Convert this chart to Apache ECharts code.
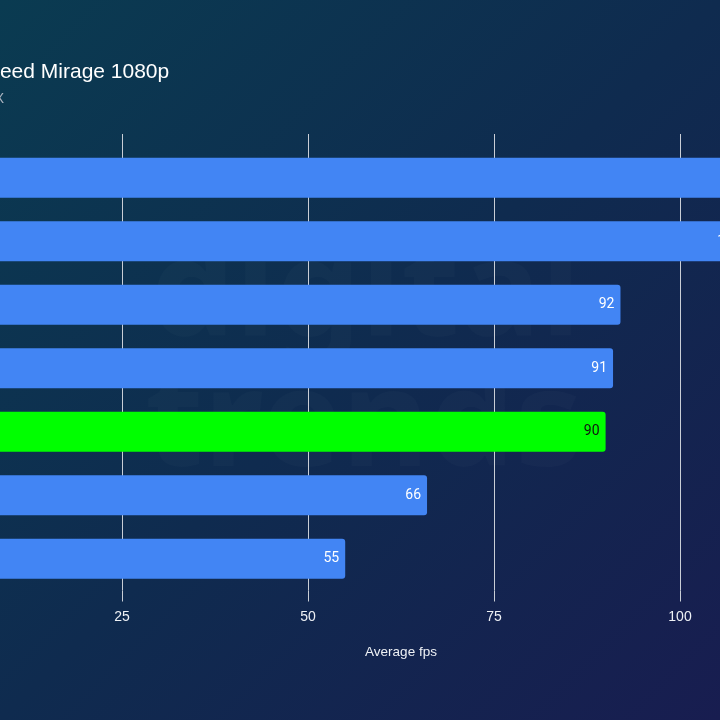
<!DOCTYPE html>
<html>
<head>
<meta charset="utf-8">
<script src="https://cdn.jsdelivr.net/npm/echarts@6/dist/echarts.min.js"></script>
<style>
  html, body { margin: 0; padding: 0; width: 720px; height: 720px; overflow: hidden; background: #10294e; }
  #chart { position: absolute; left: -400px; top: 0; width: 1300px; height: 720px; }
</style>
</head>
<body>
<div id="chart"></div>
<script>
// ---- data ----
const categories = ['GPU A', 'GPU B', 'GPU C', 'GPU D', 'GPU E', 'GPU F', 'GPU G'];
const fpsValues = [117, 109, 92, 91, 90, 66, 55];
const highlightIndex = 4;
const xMin = 0, xMax = 125, xInterval = 25;
const titleText = "Assassin's Creed Mirage 1080p";
const subtitleText = 'AMD Ryzen 9 7950X';
const axisName = 'Average fps';

// ---- layout ----
const OFFSET = 400; // container shifted left (the reference is a crop)
const chart = echarts.init(document.getElementById('chart'), null, { renderer: 'canvas' });

const blue = '#4285f4';
const green = '#00ff00';
const gridColor = '#c9ced6';

const seriesData = fpsValues.map((v, i) => ({
  value: v,
  itemStyle: { color: i === highlightIndex ? green : blue },
  label: { color: i === highlightIndex ? '#111111' : '#ffffff' }
}));

const option = {
  backgroundColor: {
    type: 'linear', x: OFFSET, y: 0, x2: OFFSET + 720, y2: 720, global: true,
    colorStops: [
      { offset: 0, color: '#0a3b51' },
      { offset: 0.5, color: '#0f2b4f' },
      { offset: 1, color: '#181d50' }
    ]
  },
  title: {
    text: titleText,
    subtext: subtitleText,
    left: OFFSET - 126.6,
    top: 62,
    padding: 0,
    itemGap: 9,
    textStyle: { color: '#ffffff', fontSize: 21, fontWeight: 'normal', fontFamily: 'Liberation Sans, Arial, sans-serif' },
    subtextStyle: { color: '#aab3bf', fontSize: 14, fontFamily: 'Liberation Sans, Arial, sans-serif' }
  },
  graphic: [
    { type: 'text', z: -1, left: OFFSET + 150, top: 230,
      style: { text: 'digital', fill: 'rgba(255,255,255,0.02)', font: 'bold 135px "Noto Sans", sans-serif' } },
    { type: 'text', z: -1, left: OFFSET + 145, top: 360,
      style: { text: 'trends', fill: 'rgba(255,255,255,0.02)', font: 'bold 135px "Noto Sans", sans-serif' } }
  ],
  grid: { left: 336, right: 34, top: 146, bottom: 129.5, containLabel: false },
  xAxis: [
    {
      type: 'value', position: 'bottom', min: xMin, max: xMax, interval: xInterval,
      axisLine: { show: false },
      axisTick: { show: true, length: 11, lineStyle: { color: gridColor, width: 1 } },
      splitLine: { show: true, lineStyle: { color: gridColor, width: 1 } },
      axisLabel: { color: '#eef1f5', fontSize: 14, margin: 20, fontFamily: 'Liberation Sans, Arial, sans-serif' },
      name: axisName, nameLocation: 'middle', nameGap: 55,
      nameTextStyle: { color: '#eef1f5', fontSize: 13.5, fontFamily: 'Liberation Sans, Arial, sans-serif' }
    },
    {
      type: 'value', position: 'top', min: xMin, max: xMax, interval: xInterval,
      axisLine: { show: false },
      axisTick: { show: true, length: 12, lineStyle: { color: gridColor, width: 1 } },
      splitLine: { show: false },
      axisLabel: { show: false }
    }
  ],
  yAxis: {
    type: 'category', data: categories, inverse: true,
    axisLine: { show: false }, axisTick: { show: false },
    axisLabel: { color: '#ffffff', fontSize: 14 }
  },
  series: [{
    type: 'bar',
    xAxisIndex: 0,
    data: seriesData,
    barWidth: 40,
    itemStyle: { borderRadius: [0, 3, 3, 0] },
    label: {
      show: true, position: 'insideRight', distance: 6,
      fontSize: 14, fontFamily: 'Roboto, sans-serif'
    },
    animation: false
  }],
  animation: false
};
chart.setOption(option);
</script>
</body>
</html>
